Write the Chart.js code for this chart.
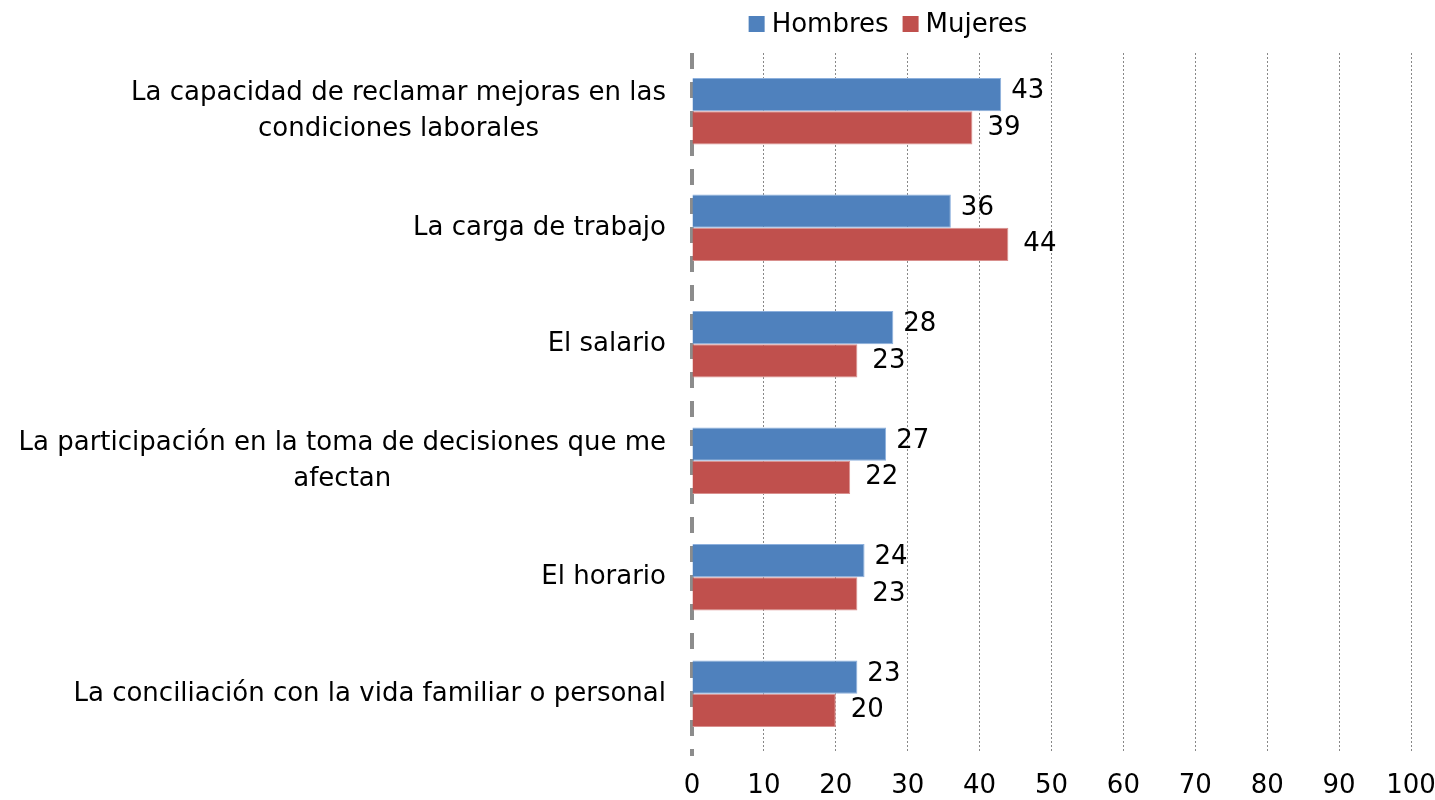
<!DOCTYPE html>
<html>
<head>
<meta charset="utf-8">
<script src="https://cdn.jsdelivr.net/npm/chart.js@4.4.1/dist/chart.umd.min.js"></script>
<style>
  html, body { margin: 0; padding: 0; background: #fff; }
  #wrap { width: 1435px; height: 800px; }
</style>
</head>
<body>
<div id="wrap"><canvas id="chart"></canvas></div>
<script>
// categories (top to bottom) and values
const categories = [
  ['La capacidad de reclamar mejoras en las', 'condiciones laborales'],
  ['La carga de trabajo'],
  ['El salario'],
  ['La participación en la toma de decisiones que me', 'afectan'],
  ['El horario'],
  ['La conciliación con la vida familiar o personal']
];
const hombres = [43, 36, 28, 27, 24, 23];
const mujeres = [39, 44, 23, 22, 23, 20];
const xTicks = [0, 10, 20, 30, 40, 50, 60, 70, 80, 90, 100];

const FONT = '"DejaVu Sans", sans-serif';
const FS = 26;

// category labels: block right-aligned against the axis, lines centered in the block
const catLabels = {
  id: 'catLabels',
  afterDraw(chart) {
    const ctx = chart.ctx, y = chart.scales.y;
    const right = chart.chartArea.left - 26;
    const lh = 36;
    ctx.save();
    ctx.font = FS + 'px ' + FONT;
    ctx.fillStyle = '#000';
    ctx.textBaseline = 'middle';
    ctx.textAlign = 'center';
    categories.forEach((lines, i) => {
      const w = Math.max(...lines.map(l => ctx.measureText(l).width));
      const cx = right - w / 2;
      const cy = y.getPixelForValue(i);
      lines.forEach((l, k) => {
        ctx.fillText(l, cx, cy + (k - (lines.length - 1) / 2) * lh);
      });
    });
    ctx.restore();
  }
};

// dashed zero axis
const zeroAxis = {
  id: 'zeroAxis',
  beforeDatasetsDraw(chart) {
    const ctx = chart.ctx, x = chart.scales.x.getPixelForValue(0);
    const a = chart.chartArea;
    ctx.save();
    ctx.strokeStyle = '#8c8c8c';
    ctx.lineWidth = 4;
    ctx.setLineDash([16, 13]);
    ctx.beginPath();
    ctx.moveTo(x, a.top);
    ctx.lineTo(x, a.bottom + 4);
    ctx.stroke();
    ctx.restore();
  }
};

// value labels to the right of the bars
const valueLabels = {
  id: 'valueLabels',
  afterDatasetsDraw(chart) {
    const ctx = chart.ctx;
    ctx.save();
    ctx.font = FS + 'px ' + FONT;
    ctx.fillStyle = '#000';
    ctx.textBaseline = 'middle';
    ctx.textAlign = 'left';
    chart.data.datasets.forEach((ds, di) => {
      chart.getDatasetMeta(di).data.forEach((bar, i) => {
        const off = di === 0 ? 10 : 15;
        ctx.fillText(ds.data[i], bar.x + off, bar.y - (di === 0 ? 3 : 0));
      });
    });
    ctx.restore();
  }
};

// legend drawn centered above the plot
const topLegend = {
  id: 'topLegend',
  afterDraw(chart) {
    const ctx = chart.ctx;
    ctx.save();
    ctx.font = FS + 'px ' + FONT;
    ctx.textBaseline = 'middle';
    ctx.textAlign = 'left';
    const box = 16, gap = 7, sep = 14;
    const items = chart.data.datasets.map(d => ({ label: d.label, color: d.backgroundColor }));
    let total = 0;
    items.forEach((it, i) => {
      it.w = box + gap + ctx.measureText(it.label).width;
      total += it.w + (i ? sep : 0);
    });
    let x = 888 - total / 2;
    const cy = 24;
    items.forEach(it => {
      ctx.fillStyle = it.color;
      ctx.fillRect(x, cy - box / 2, box, box);
      ctx.fillStyle = '#000';
      ctx.fillText(it.label, x + box + gap, cy + 1);
      x += it.w + sep;
    });
    ctx.restore();
  }
};

new Chart(document.getElementById('chart'), {
  type: 'bar',
  data: {
    labels: categories.map(c => c.join(' ')),
    datasets: [
      {
        label: 'Hombres',
        data: hombres,
        backgroundColor: '#4F81BD',
        borderColor: '#8DB0DD',
        borderWidth: 1
      },
      {
        label: 'Mujeres',
        data: mujeres,
        backgroundColor: '#C0504D',
        borderColor: '#D9908E',
        borderWidth: 1
      }
    ]
  },
  plugins: [zeroAxis, valueLabels, catLabels, topLegend],
  options: {
    animation: false,
    responsive: true,
    maintainAspectRatio: false,
    indexAxis: 'y',
    categoryPercentage: 0.57,
    barPercentage: 1,
    layout: {
      padding: { top: 53, left: 692, right: 24, bottom: 0 }
    },
    plugins: {
      legend: { display: false },
      tooltip: { enabled: false }
    },
    scales: {
      x: {
        min: 0,
        max: 100,
        afterBuildTicks: (s) => { s.ticks = xTicks.map(v => ({ value: v })); },
        afterFit: (s) => { s.height = 48; s.paddingLeft = 0; s.paddingRight = 0; },
        border: { display: false, dash: [2, 2] },
        grid: {
          color: (c) => c.tick && c.tick.value === 0 ? 'rgba(0,0,0,0)' : '#888888',
          lineWidth: 1,
          borderDash: [2, 2],
          drawTicks: false
        },
        ticks: {
          padding: 19,
          color: '#000',
          font: { family: FONT, size: FS }
        }
      },
      y: {
        afterFit: (s) => { s.width = 0; },
        border: { display: false },
        grid: { display: false },
        ticks: { display: false }
      }
    }
  }
});
</script>
</body>
</html>
